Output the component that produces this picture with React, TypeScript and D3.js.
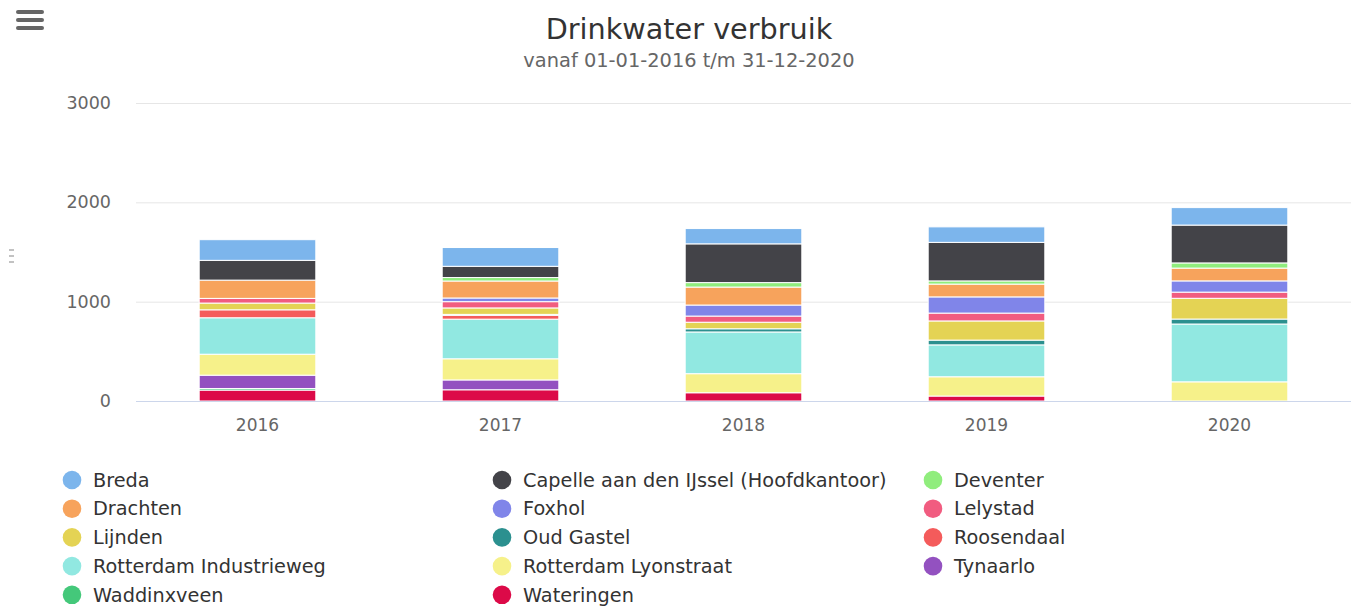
import React from 'react';
import * as d3 from 'd3';

const years = ['2016', '2017', '2018', '2019', '2020'];
const yTicks = [0, 1000, 2000, 3000];

const seriesNames = [
  'Breda', 'Capelle aan den IJssel (Hoofdkantoor)', 'Deventer', 'Drachten', 'Foxhol',
  'Lelystad', 'Lijnden', 'Oud Gastel', 'Roosendaal', 'Rotterdam Industrieweg',
  'Rotterdam Lyonstraat', 'Tynaarlo', 'Waddinxveen', 'Wateringen',
];
const seriesColors = [
  '#7cb5ec', '#434348', '#90ed7d', '#f7a35c', '#8085e9',
  '#f15c80', '#e4d354', '#2b908f', '#f45b5b', '#91e8e1',
  '#f6f18a', '#9351c0', '#44c87a', '#dc0a48',
];

const breda = [208, 189, 154, 156, 176];
const capelle = [199, 113, 390, 388, 381];
const deventer = [0, 35, 45, 32, 52];
const drachten = [184, 171, 181, 129, 129];
const foxhol = [0, 37, 111, 163, 113];
const lelystad = [47, 63, 62, 79, 62];
const lijnden = [68, 65, 66, 193, 209];
const oudGastel = [0, 10, 32, 48, 50];
const roosendaal = [80, 38, 0, 0, 0];
const industrieweg = [367, 399, 420, 321, 582];
const lyonstraat = [211, 213, 192, 194, 193];
const tynaarlo = [134, 99, 0, 0, 0];
const waddinxveen = [16, 0, 0, 0, 0];
const wateringen = [110, 113, 83, 50, 0];

const seriesValues = [
  breda, capelle, deventer, drachten, foxhol, lelystad, lijnden,
  oudGastel, roosendaal, industrieweg, lyonstraat, tynaarlo, waddinxveen, wateringen,
];

const W = 1359;
const H = 608;
const FONT = '"DejaVu Sans", Verdana, sans-serif';

export default function App() {
  const x = d3.scaleBand().domain(years).range([136, 1351]).paddingInner(0.52).paddingOuter(0.26);
  const y = d3.scaleLinear().domain([0, 3000]).range([401, 103]);

  // first series sits on top, so stack in reverse order
  const table = years.map((yr, i) => {
    const row: any = { year: yr };
    seriesNames.forEach((n, s) => (row[n] = seriesValues[s][i]));
    return row;
  });
  const stack = d3.stack<any>().keys([...seriesNames].reverse());
  const layers = stack(table);

  return (
    <svg width={W} height={H} style={{ position: 'absolute', left: 0, top: 0 }} fontFamily={FONT}>
      <rect width={W} height={H} fill="#fff" />

      {/* menu icon */}
      {[12, 20, 28].map((yy) => (
        <line key={yy} x1={18} x2={42} y1={yy} y2={yy} stroke="#666" strokeWidth={4} strokeLinecap="round" />
      ))}
      {[250, 256, 262].map((yy) => (
        <line key={yy} x1={9} x2={14} y1={yy} y2={yy} stroke="#999" strokeWidth={1.2} />
      ))}

      <text x={689} y={39} textAnchor="middle" fontSize={28.7} fill="#333">Drinkwater verbruik</text>
      <text x={689} y={67} textAnchor="middle" fontSize={19.4} fill="#666">vanaf 01-01-2016 t/m 31-12-2020</text>

      {yTicks.map((t) => (
        <g key={t}>
          {t > 0 && <line x1={136} x2={1351} y1={y(t) + 0.5} y2={y(t) + 0.5} stroke="#e6e6e6" />}
          <text x={111} y={y(t)} dy="0.35em" textAnchor="end" fontSize={17.5} fill="#666">{t}</text>
        </g>
      ))}

      {layers.map((layer) => {
        const s = seriesNames.indexOf(layer.key);
        return (
          <g key={layer.key} fill={seriesColors[s]}>
            {layer.map((d, i) =>
              d[1] - d[0] > 0 ? (
                <rect
                  key={i}
                  x={x(years[i])}
                  width={x.bandwidth()}
                  y={y(d[1])}
                  height={y(d[0]) - y(d[1])}
                  stroke="#fff"
                  strokeWidth={1}
                />
              ) : null
            )}
          </g>
        );
      })}

      <line x1={136} x2={1351} y1={401.5} y2={401.5} stroke="#ccd6eb" />
      {years.map((yr) => (
        <text key={yr} x={x(yr)! + x.bandwidth() / 2} y={431} textAnchor="middle" fontSize={17} fill="#666">{yr}</text>
      ))}

      {seriesNames.map((n, i) => {
        const col = i % 3;
        const row = Math.floor(i / 3);
        const cx = [72, 502, 933][col];
        const cy = 480 + row * 28.7;
        return (
          <g key={n}>
            <circle cx={cx} cy={cy} r={9.3} fill={seriesColors[i]} />
            <text x={cx + 21} y={cy} dy="0.35em" fontSize={19.3} fill="#333">{n}</text>
          </g>
        );
      })}
    </svg>
  );
}
